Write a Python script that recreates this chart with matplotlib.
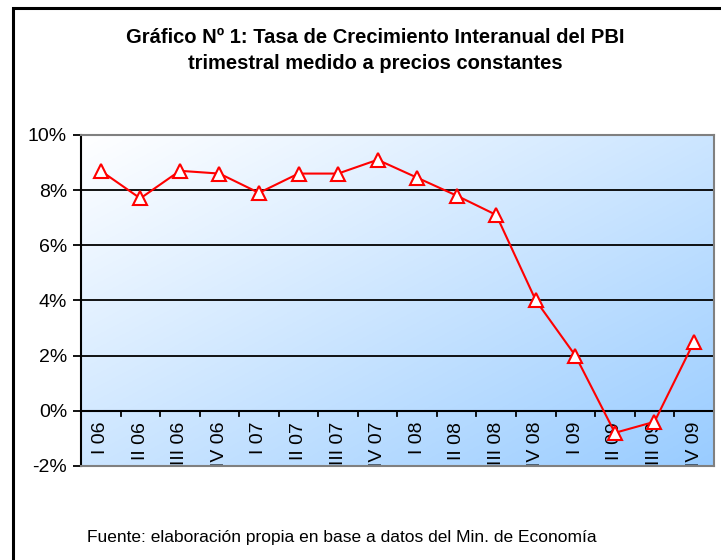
import numpy as np
import matplotlib.pyplot as plt
from matplotlib.patches import Rectangle
from matplotlib.ticker import FuncFormatter

trimestres = ['I 06', 'II 06', 'III 06', 'IV 06',
              'I 07', 'II 07', 'III 07', 'IV 07',
              'I 08', 'II 08', 'III 08', 'IV 08',
              'I 09', 'II 09', 'III 09', 'IV 09']
tasas = [8.7, 7.7, 8.7, 8.6, 7.9, 8.6, 8.6, 9.1,
         8.45, 7.8, 7.1, 4.0, 2.0, -0.8, -0.4, 2.5]
yticks = [-2, 0, 2, 4, 6, 8, 10]

titulo = u'Gráfico Nº 1: Tasa de Crecimiento Interanual del PBI\ntrimestral medido a precios constantes'
fuente = u'Fuente: elaboración propia en base a datos del Min. de Economía'

plt.rcParams['font.family'] = ['Liberation Sans', 'DejaVu Sans']

fig = plt.figure(figsize=[7.21, 5.6], dpi=100)
ax = fig.add_axes([0.1123, 0.168, 0.8777, 0.591])

n = len(tasas)
x = np.arange(n)

# fondo degradado (blanco arriba-izq -> celeste abajo-der)
gx, gy = np.meshgrid(np.linspace(0, 1, 200), np.linspace(0, 1, 200))
t = gx * 0.5 + gy * 0.5
c0 = np.array([1.0, 1.0, 1.0])
c1 = np.array([0.60, 0.80, 1.0])
img = c0[None, None, :] * (1 - t[..., None]) + c1[None, None, :] * t[..., None]
ax.imshow(img, extent=[-0.5, n - 0.5, -2, 10], origin='upper', aspect='auto', zorder=0)
ax.set_xlim(-0.5, n - 0.5)
ax.set_ylim(-2, 10)

for yv in [2, 4, 6, 8]:
    ax.axhline(yv, color='black', lw=1.3, zorder=1)
ax.axhline(0, color='black', lw=1.5, zorder=2)

ax.plot(x, tasas, color='red', lw=1.5, marker='^', markersize=10,
        markerfacecolor='white', markeredgecolor='red', markeredgewidth=1.5, zorder=3)

# ticks y etiquetas del eje x sobre la linea del 0
for i in range(n + 1):
    ax.plot([i - 0.5, i - 0.5], [0, -0.2], color='black', lw=1.3, zorder=2, clip_on=False)
for i, lab in enumerate(trimestres):
    ax.text(i, -0.4, lab, rotation=90, ha='center', va='top', fontsize=14, zorder=2)

ax.set_xticks([])
ax.set_yticks(yticks)
ax.yaxis.set_major_formatter(FuncFormatter(lambda v, p: '%d%%' % v))
ax.tick_params(axis='y', labelsize=14, length=6, width=1.3, direction='out', pad=4)

for s in ['top', 'right', 'bottom']:
    ax.spines[s].set_color('#808080')
    ax.spines[s].set_linewidth(1.5)
ax.spines['left'].set_color('black')
ax.spines['left'].set_linewidth(1.5)

fig.text(0.52, 0.91, titulo, ha='center', va='center', fontsize=14.5,
         fontweight='bold', linespacing=1.45)
fig.text(0.121, 0.041, fuente, ha='left', va='center', fontsize=12.5)

# marco de la figura
fig.patches.append(Rectangle((13 / 721, -0.05), 1.1, 1.05 - 8 / 560,
                             transform=fig.transFigure, fill=False,
                             edgecolor='black', lw=2.2))

plt.savefig('out.png', dpi=100)
plt.close()
